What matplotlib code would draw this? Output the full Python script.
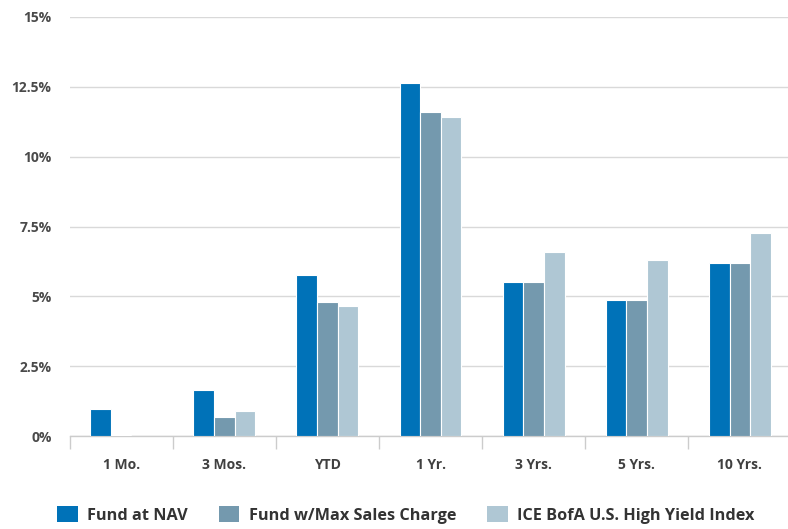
import numpy as np
import matplotlib.pyplot as plt
from matplotlib.patches import Patch
from matplotlib.ticker import FuncFormatter

plt.rcParams['font.family'] = ['Open Sans', 'DejaVu Sans']

categories = ['1 Mo.', '3 Mos.', 'YTD', '1 Yr.', '3 Yrs.', '5 Yrs.', '10 Yrs.']
series_names = ['Fund at NAV', 'Fund w/Max Sales Charge', 'ICE BofA U.S. High Yield Index']
nav = [0.97, 1.66, 5.75, 12.62, 5.53, 4.88, 6.21]
max_charge = [0.03, 0.69, 4.78, 11.60, 5.53, 4.88, 6.21]
index = [0.01, 0.90, 4.64, 11.41, 6.57, 6.29, 7.25]
colors = ['#0072b8', '#7499ae', '#afc7d4']
yticks = [0, 2.5, 5, 7.5, 10, 12.5, 15]

fig = plt.figure(figsize=(7.88, 5.29), dpi=100)
ax = fig.add_axes([69.5/788, 93/529, 722/788, 419/529])

x = np.arange(len(categories))
w = 0.2
for k, (vals, c) in enumerate(zip([nav, max_charge, index], colors)):
    ax.bar(x + (k - 1) * w, vals, width=w, color=c, edgecolor='white', linewidth=0.8, zorder=3)

ax.set_xlim(-0.5, len(categories) - 0.5)
ax.set_ylim(0, 15)
ax.set_yticks(yticks)
ax.yaxis.set_major_formatter(FuncFormatter(lambda v, p: f'{v:g}%'))
ax.grid(axis='y', color='#d9d9d9', linewidth=1, zorder=0)
ax.tick_params(axis='y', length=0, pad=13, labelsize=10, labelcolor='#4a4a4a')

for s in ['top', 'right', 'left']:
    ax.spines[s].set_visible(False)
ax.spines['bottom'].set_color('#cccccc')
ax.spines['bottom'].set_linewidth(1)

ax.set_xticks(x)
ax.set_xticklabels(categories)
ax.set_xticks(np.arange(len(categories) + 1) - 0.5, minor=True)
ax.tick_params(axis='x', which='major', length=0, pad=16, labelsize=10, labelcolor='#404040')
ax.tick_params(axis='x', which='minor', length=9, width=1, color='#cccccc')
for lbl in ax.get_xticklabels() + ax.get_yticklabels():
    lbl.set_fontweight('bold')

handles = [Patch(facecolor=c, edgecolor='none') for c in colors]
leg = fig.legend(handles, series_names, loc='center', bbox_to_anchor=(406/788, 14/529),
                 ncol=3, frameon=False, handlelength=1.25, handleheight=1.15,
                 handletextpad=0.6, columnspacing=1.9,
                 prop={'size': 11.7, 'weight': 'bold'})
for t in leg.get_texts():
    t.set_color('#333333')

fig.savefig('out.png', dpi=100)
